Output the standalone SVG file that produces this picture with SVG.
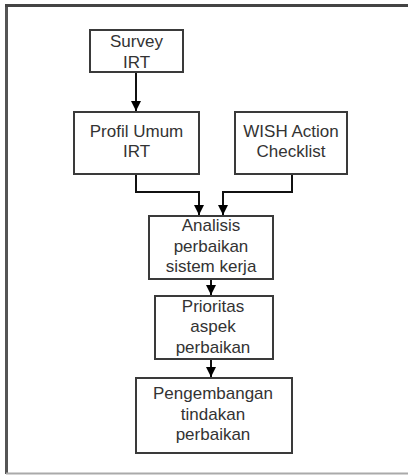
<svg xmlns="http://www.w3.org/2000/svg" width="408" height="475" viewBox="0 0 408 475">
<style>
.box{fill:#fff;stroke:#3a3a3a;stroke-width:2}
.t{font-family:"Liberation Sans",Arial,sans-serif;font-size:17px;fill:#333;text-anchor:middle}
.c{fill:none;stroke:#111;stroke-width:2}
</style>
<defs>
<marker id="ah" markerWidth="10" markerHeight="10" refX="10" refY="5" orient="auto" markerUnits="userSpaceOnUse">
<path d="M0,0 L10,5 L0,10 Z" fill="#000"/>
</marker>
</defs>
<rect x="0" y="0" width="408" height="475" fill="#fff"/>
<g id="frame">
<line x1="6.5" y1="5" x2="6.5" y2="474" stroke="#555" stroke-width="3"/>
<line x1="5" y1="5.5" x2="408" y2="5.5" stroke="#444" stroke-width="3"/>
<line x1="6" y1="473.5" x2="408" y2="473.5" stroke="#aaa" stroke-width="2"/>
</g>
<g id="connectors">
<line class="c" x1="136" y1="72" x2="136" y2="111" marker-end="url(#ah)"/>
<polyline class="c" points="136,174 136,192 199,192 199,215" marker-end="url(#ah)"/>
<polyline class="c" points="292,174 292,192 223,192 223,215" marker-end="url(#ah)"/>
<line class="c" x1="211" y1="279" x2="211" y2="295" marker-end="url(#ah)"/>
<line class="c" x1="211" y1="359" x2="211" y2="377" marker-end="url(#ah)"/>
</g>
<g id="survey">
<rect class="box" x="90" y="30" width="93" height="42"/>
<text class="t" x="136.5" y="47">Survey</text>
<text class="t" x="136.5" y="68">IRT</text>
</g>
<g id="profil">
<rect class="box" x="74" y="112" width="125" height="62"/>
<text class="t" x="136.5" y="137">Profil Umum</text>
<text class="t" x="136.5" y="157">IRT</text>
</g>
<g id="wish">
<rect class="box" x="235" y="112" width="112" height="62"/>
<text class="t" x="291" y="137">WISH Action</text>
<text class="t" x="291" y="157">Checklist</text>
</g>
<g id="analisis">
<rect class="box" x="149" y="216" width="124" height="63"/>
<text class="t" x="211" y="231">Analisis</text>
<text class="t" x="211" y="251.5">perbaikan</text>
<text class="t" x="211" y="272">sistem kerja</text>
</g>
<g id="prioritas">
<rect class="box" x="155" y="296" width="118" height="63"/>
<text class="t" x="213" y="311.5">Prioritas</text>
<text class="t" x="213" y="332">aspek</text>
<text class="t" x="213" y="352.5">perbaikan</text>
</g>
<g id="pengembangan">
<rect class="box" x="136" y="378" width="156" height="75"/>
<text class="t" x="213" y="399">Pengembangan</text>
<text class="t" x="213" y="419.5">tindakan</text>
<text class="t" x="213" y="440">perbaikan</text>
</g>
</svg>
